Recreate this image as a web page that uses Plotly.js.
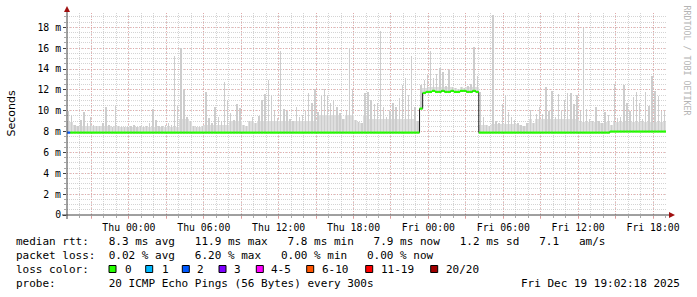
<!DOCTYPE html>
<html><head><meta charset="utf-8">
<script src="https://cdn.plot.ly/plotly-3.0.1.min.js"></script>
<style>html,body{margin:0;padding:0;background:#fff}#chart{width:697px;height:297px}</style>
</head><body><div id="chart"></div>
<script>
// ---------------- data ----------------
const startTime = '2025-12-17 19:02:18';
const endTime   = '2025-12-19 19:02:18';
const binMinutes = 15;

// highest ping per 15-min bin (ms)
const smokeMax = [
 10.0,9.6,8.6,8.5,9.1,9.9,8.8,9.4,8.6,8.5, 8.5,8.8,10.4,8.6,8.4,10.5,8.5,8.4,8.4,8.4,
 8.5,8.6,8.4,8.5,8.4,8.5,8.8,10.2,9.1,8.5, 8.5,8.6,8.8,8.6,15.2,10.5,16.0,12.0,9.4,9.0,
 8.5,8.4,8.4,8.5,11.8,9.3,8.8,10.4,9.4,9.0, 12.8,11.0,9.8,9.1,10.6,10.3,8.6,8.5,9.0,9.4,
 8.8,9.5,11.0,11.6,12.9,11.5,10.0,9.3,15.7,10.2, 10.0,9.2,9.0,10.4,9.4,9.6,10.0,11.7,10.7,12.1,
 9.9,11.4,12.1,11.5,10.7,11.0,10.4,9.8,9.2,10.0, 16.0,12.0,9.1,8.9,8.8,11.7,11.8,11.0,10.6,10.7,
 17.6,10.4,9.4,10.0,10.7,10.4,11.2,12.5,13.1,11.5, 15.2,10.4,9.0,12.5,12.9,13.5,15.7,13.1,13.5,14.1,
 13.7,12.4,13.9,12.3,12.2,12.1,12.3,12.2,12.4,12.6, 16.1,13.3,11.8,9.4,8.6,8.5,19.2,9.0,8.8,10.6,
 11.5,9.9,9.4,9.1,8.8,8.6,8.5,8.8,10.1,8.8, 9.7,10.4,9.7,12.3,10.0,11.9,9.4,11.6,10.0,11.0,
 11.7,11.7,10.6,11.5,10.0,17.9,10.2,9.2,9.0,10.4, 9.0,8.8,9.9,9.6,8.6,12.6,9.3,9.4,12.5,10.7,
 10.0,11.3,11.8,10.7,9.2,11.8,10.5,13.3,11.9,11.4, 10.0,10.0
];

// typical (dense) upper edge of the smoke, per hour (ms)
const smokeBand = [
 8.9,8.5,8.5,8.5,8.5, 8.4,8.4,8.4,8.4, 9.2, 8.6,8.6,8.6,
 9.0,9.0,9.0,9.0, 9.0,9.0,9.0, 9.6,9.6,9.6,9.6,
 9.2,9.2,9.2,9.2, 12.2, 12.3,12.3,12.3,12.3,
 8.6, 8.7,8.7,8.7, 9.2,9.2,9.2,9.2, 8.9,8.9,8.9,8.9,8.9,8.9,8.9
];

// median rtt per 15-min bin (ms)
const median = [
 7.9,7.9,7.9,7.9,7.9,7.9,7.9,7.9,7.9,7.9, 7.9,7.9,7.9,7.9,7.9,7.9,7.9,7.9,7.9,7.9,
 7.9,7.9,7.9,7.9,7.9,7.9,7.9,7.9,7.9,7.9, 7.9,7.9,7.9,7.9,7.9,7.9,7.9,7.9,7.9,7.9,
 7.9,7.9,7.9,7.9,7.9,7.9,7.9,7.9,7.9,7.9, 7.9,7.9,7.9,7.9,7.9,7.9,7.9,7.9,7.9,7.9,
 7.9,7.9,7.9,7.9,7.9,7.9,7.9,7.9,7.9,7.9, 7.9,7.9,7.9,7.9,7.9,7.9,7.9,7.9,7.9,7.9,
 7.9,7.9,7.9,7.9,7.9,7.9,7.9,7.9,7.9,7.9, 7.9,7.9,7.9,7.9,7.9,7.9,7.9,7.9,7.9,7.9,
 7.9,7.9,7.9,7.9,7.9,7.9,7.9,7.9,7.9,7.9, 7.9,7.9,7.9,10.2,11.7,11.8,11.8,11.9,11.8,11.8,
 11.9,11.8,11.8,11.9,11.8,11.8,11.9,11.9,11.8,11.8, 11.9,11.8,7.9,7.9,7.9,7.9,7.9,7.9,7.9,7.9,
 7.9,7.9,7.9,7.9,7.9,7.9,7.9,7.9,7.9,7.9, 7.9,7.9,7.9,7.9,7.9,7.9,7.9,7.9,7.9,7.9,
 7.9,7.9,7.9,7.9,7.9,7.9,7.9,7.9,7.9,7.9, 7.9,7.9,7.9,7.9,8.0,8.0,8.0,8.0,8.0,8.0,
 8.0,8.0,8.0,8.0,8.0,8.0,8.0,8.0,8.0,8.0, 8.0,8.0
];

// bins with packet loss (index, lost pings out of 20)
const lossIdx = [0];
const lossCount = [2];

const lossLabels = ['0','1','2','3','4-5','6-10','11-19','20/20'];
const lossUpper  = [0,1,2,3,5,10,19,20];
const lossColors = ['#26ff00','#00b8ff','#0059ff','#7e00ff','#ff00ff','#ff5500','#ff0000','#a00000'];

const yTickVals = [0,2,4,6,8,10,12,14,16,18];
const yTickText = ['0','2 m','4 m','6 m','8 m','10 m','12 m','14 m','16 m','18 m'];

const xTickVals = ['2025-12-17 21:00','2025-12-18 00:00','2025-12-18 03:00','2025-12-18 06:00','2025-12-18 09:00',
  '2025-12-18 12:00','2025-12-18 15:00','2025-12-18 18:00','2025-12-18 21:00','2025-12-19 00:00',
  '2025-12-19 03:00','2025-12-19 06:00','2025-12-19 09:00','2025-12-19 12:00','2025-12-19 15:00','2025-12-19 18:00'];
const xTickText = ['','Thu 00:00','','Thu 06:00','','Thu 12:00','','Thu 18:00','','Fri 00:00','','Fri 06:00','','Fri 12:00','','Fri 18:00'];

const statMedian = 'median rtt:   8.3 ms avg   11.9 ms max   7.8 ms min   7.9 ms now   1.2 ms sd   7.1   am/s';
const statLoss   = 'packet loss:  0.02 % avg   6.20 % max   0.00 % min   0.00 % now';
const lossTitle  = 'loss color:';
const probeText  = 'probe:        20 ICMP Echo Pings (56 Bytes) every 300s';
const stampText  = 'Fri Dec 19 19:02:18 2025';
const yTitle = 'Seconds';
const sideText = 'RRDTOOL / TOBI OETIKER';

// ---------------- helpers ----------------
function toMs(s){const [d,t]=s.split(' ');const [Y,M,D]=d.split('-').map(Number);const [h,m,sec]=t.split(':').map(Number);return Date.UTC(Y,M-1,D,h,m,sec||0);}
function fmt(ms){return new Date(ms).toISOString().replace('T',' ').slice(0,19);}
const t0 = toMs(startTime), binMs = binMinutes*60000;
const n = median.length;
const edges = []; for (let i=0;i<=n;i++) edges.push(fmt(t0+i*binMs));
const centers = []; for (let i=0;i<n;i++) centers.push(fmt(t0+(i+0.5)*binMs));
const bandTop = median.map((m,i)=>Math.max(m, Math.min(smokeBand[Math.floor(i*binMinutes/60)], smokeMax[i])));

const PL=67, PT=13, PW=599, PH=202;
const px = x => (x-PL)/PW;
const py = y => (PT+PH-y)/PH;
const nb = s => s.replace(/ /g,'\u00A0');
const MONO = 'DejaVu Sans Mono';

// ---------------- traces ----------------
const traces = [];
// dense smoke band
traces.push({type:'bar', x:centers, base:median, y:bandTop.map((v,i)=>v-median[i]),
  width:binMs, marker:{color:'#dedede', line:{width:0}}, hoverinfo:'skip'});
// thin spikes up to the highest ping
traces.push({type:'bar', x:centers, base:median, y:smokeMax.map((v,i)=>v-median[i]),
  width:binMs*0.45, marker:{color:'#cdcdcd', line:{width:0}}, hoverinfo:'skip'});
traces.push({type:'scatter', mode:'lines', x:edges, y:median.concat([median[n-1]]),
  line:{shape:'hv', color:'#1a1a1a', width:1}, hoverinfo:'skip'});

const binLoss = median.map(()=>0);
lossIdx.forEach((b,k)=>{binLoss[b]=lossCount[k];});
lossColors.forEach((col,k)=>{
  const xs=[], ys=[];
  for (let i=0;i<n;i++){
    let cat=0; while (binLoss[i]>lossUpper[cat]) cat++;
    if (cat!==k) continue;
    xs.push(edges[i],edges[i+1],null); ys.push(median[i],median[i],null);
  }
  if (xs.length) traces.push({type:'scatter', mode:'lines', x:xs, y:ys, connectgaps:false,
    line:{color:col, width:2.2}, hoverinfo:'skip'});
});

// ---------------- layout ----------------
const shapes = [
  {type:'line', xref:'paper', yref:'paper', x0:px(62), x1:px(670), y0:0, y1:0, line:{color:'#404040', width:1}},
  {type:'line', xref:'paper', yref:'paper', x0:0, x1:0, y0:py(219), y1:py(10), line:{color:'#404040', width:1}},
  {type:'path', xref:'paper', yref:'paper', path:`M ${px(67)} ${py(6)} L ${px(64)} ${py(12)} L ${px(70)} ${py(12)} Z`, fillcolor:'#a01010', line:{width:0}},
  {type:'path', xref:'paper', yref:'paper', path:`M ${px(675)} ${py(215)} L ${px(669)} ${py(212)} L ${px(669)} ${py(218)} Z`, fillcolor:'#a01010', line:{width:0}}
];
const swatchX = [109,145.7,182.3,219,256.3,306.7,365.7,430.7];
const swatchLabelX = [124,161.3,196.7,233.3,270.7,321.7,380,445];
lossColors.forEach((c,k)=>{
  shapes.push({type:'rect', xref:'paper', yref:'paper', x0:px(swatchX[k]), x1:px(swatchX[k]+7), y0:py(272.5), y1:py(265.5),
    fillcolor:c, line:{color:'#000', width:1}});
});

const ann = (x,y,text,opt={}) => Object.assign({xref:'paper', yref:'paper', x:px(x), y:py(y), text:nb(text), showarrow:false,
  xanchor:'left', yanchor:'middle', borderpad:0, font:{family:MONO, size:11, color:'#000'}}, opt);
const annotations = [
  ann(15, 241.5, statMedian),
  ann(15, 255.3, statLoss),
  ann(15, 269.3, lossTitle),
  ann(15, 283.3, probeText),
  ann(681, 283.3, stampText, {xanchor:'right'}),
  ann(10.5, 114, yTitle, {xanchor:'center', textangle:-90, font:{family:'DejaVu Sans', size:11, color:'#000'}}),
  ann(686.5, 60, sideText, {xanchor:'center', textangle:90, font:{family:MONO, size:8.3, color:'#b4b4b4'}})
];
lossLabels.forEach((l,k)=>annotations.push(ann(swatchLabelX[k]-0.5, 269.3, l)));

const gridRed = 'rgba(232,150,150,0.7)';
const gridGray = 'rgba(170,170,170,0.5)';
const layout = {
  width:697, height:297, margin:{l:PL, r:697-PL-PW, t:PT, b:297-PT-PH, pad:0},
  paper_bgcolor:'#fff', plot_bgcolor:'#fff', showlegend:false, barmode:'overlay', bargap:0,
  font:{family:MONO, size:10, color:'#000'},
  xaxis:{type:'date', range:[startTime,endTime], tickmode:'array', tickvals:xTickVals, ticktext:xTickText,
    showgrid:true, gridcolor:gridRed, griddash:'1px,2px', gridwidth:1, zeroline:false, showline:false,
    ticks:'outside', ticklen:3, tickcolor:gridRed, tickfont:{family:MONO, size:9.8, color:'#000'},
    minor:{tickmode:'linear', tick0:'2025-12-17 20:00', dtick:3600000, showgrid:true, gridcolor:gridGray, griddash:'1px,1px', gridwidth:1,
      ticks:'outside', ticklen:2, tickcolor:'#aaa'}, fixedrange:true},
  yaxis:{range:[0,19.37], tickmode:'array', tickvals:yTickVals, ticktext:yTickText,
    showgrid:true, gridcolor:gridRed, griddash:'1px,2px', gridwidth:1, zeroline:false, showline:false,
    ticks:'outside', ticklen:3, tickcolor:'#404040', tickfont:{family:MONO, size:9.8, color:'#000'},
    minor:{tickmode:'linear', tick0:0, dtick:0.5, showgrid:true, gridcolor:gridGray, griddash:'1px,1px', gridwidth:1,
      ticks:'outside', ticklen:2, tickcolor:'#aaa'}, fixedrange:true},
  shapes, annotations
};
Plotly.newPlot('chart', traces, layout, {staticPlot:true, displayModeBar:false});
</script></body></html>
